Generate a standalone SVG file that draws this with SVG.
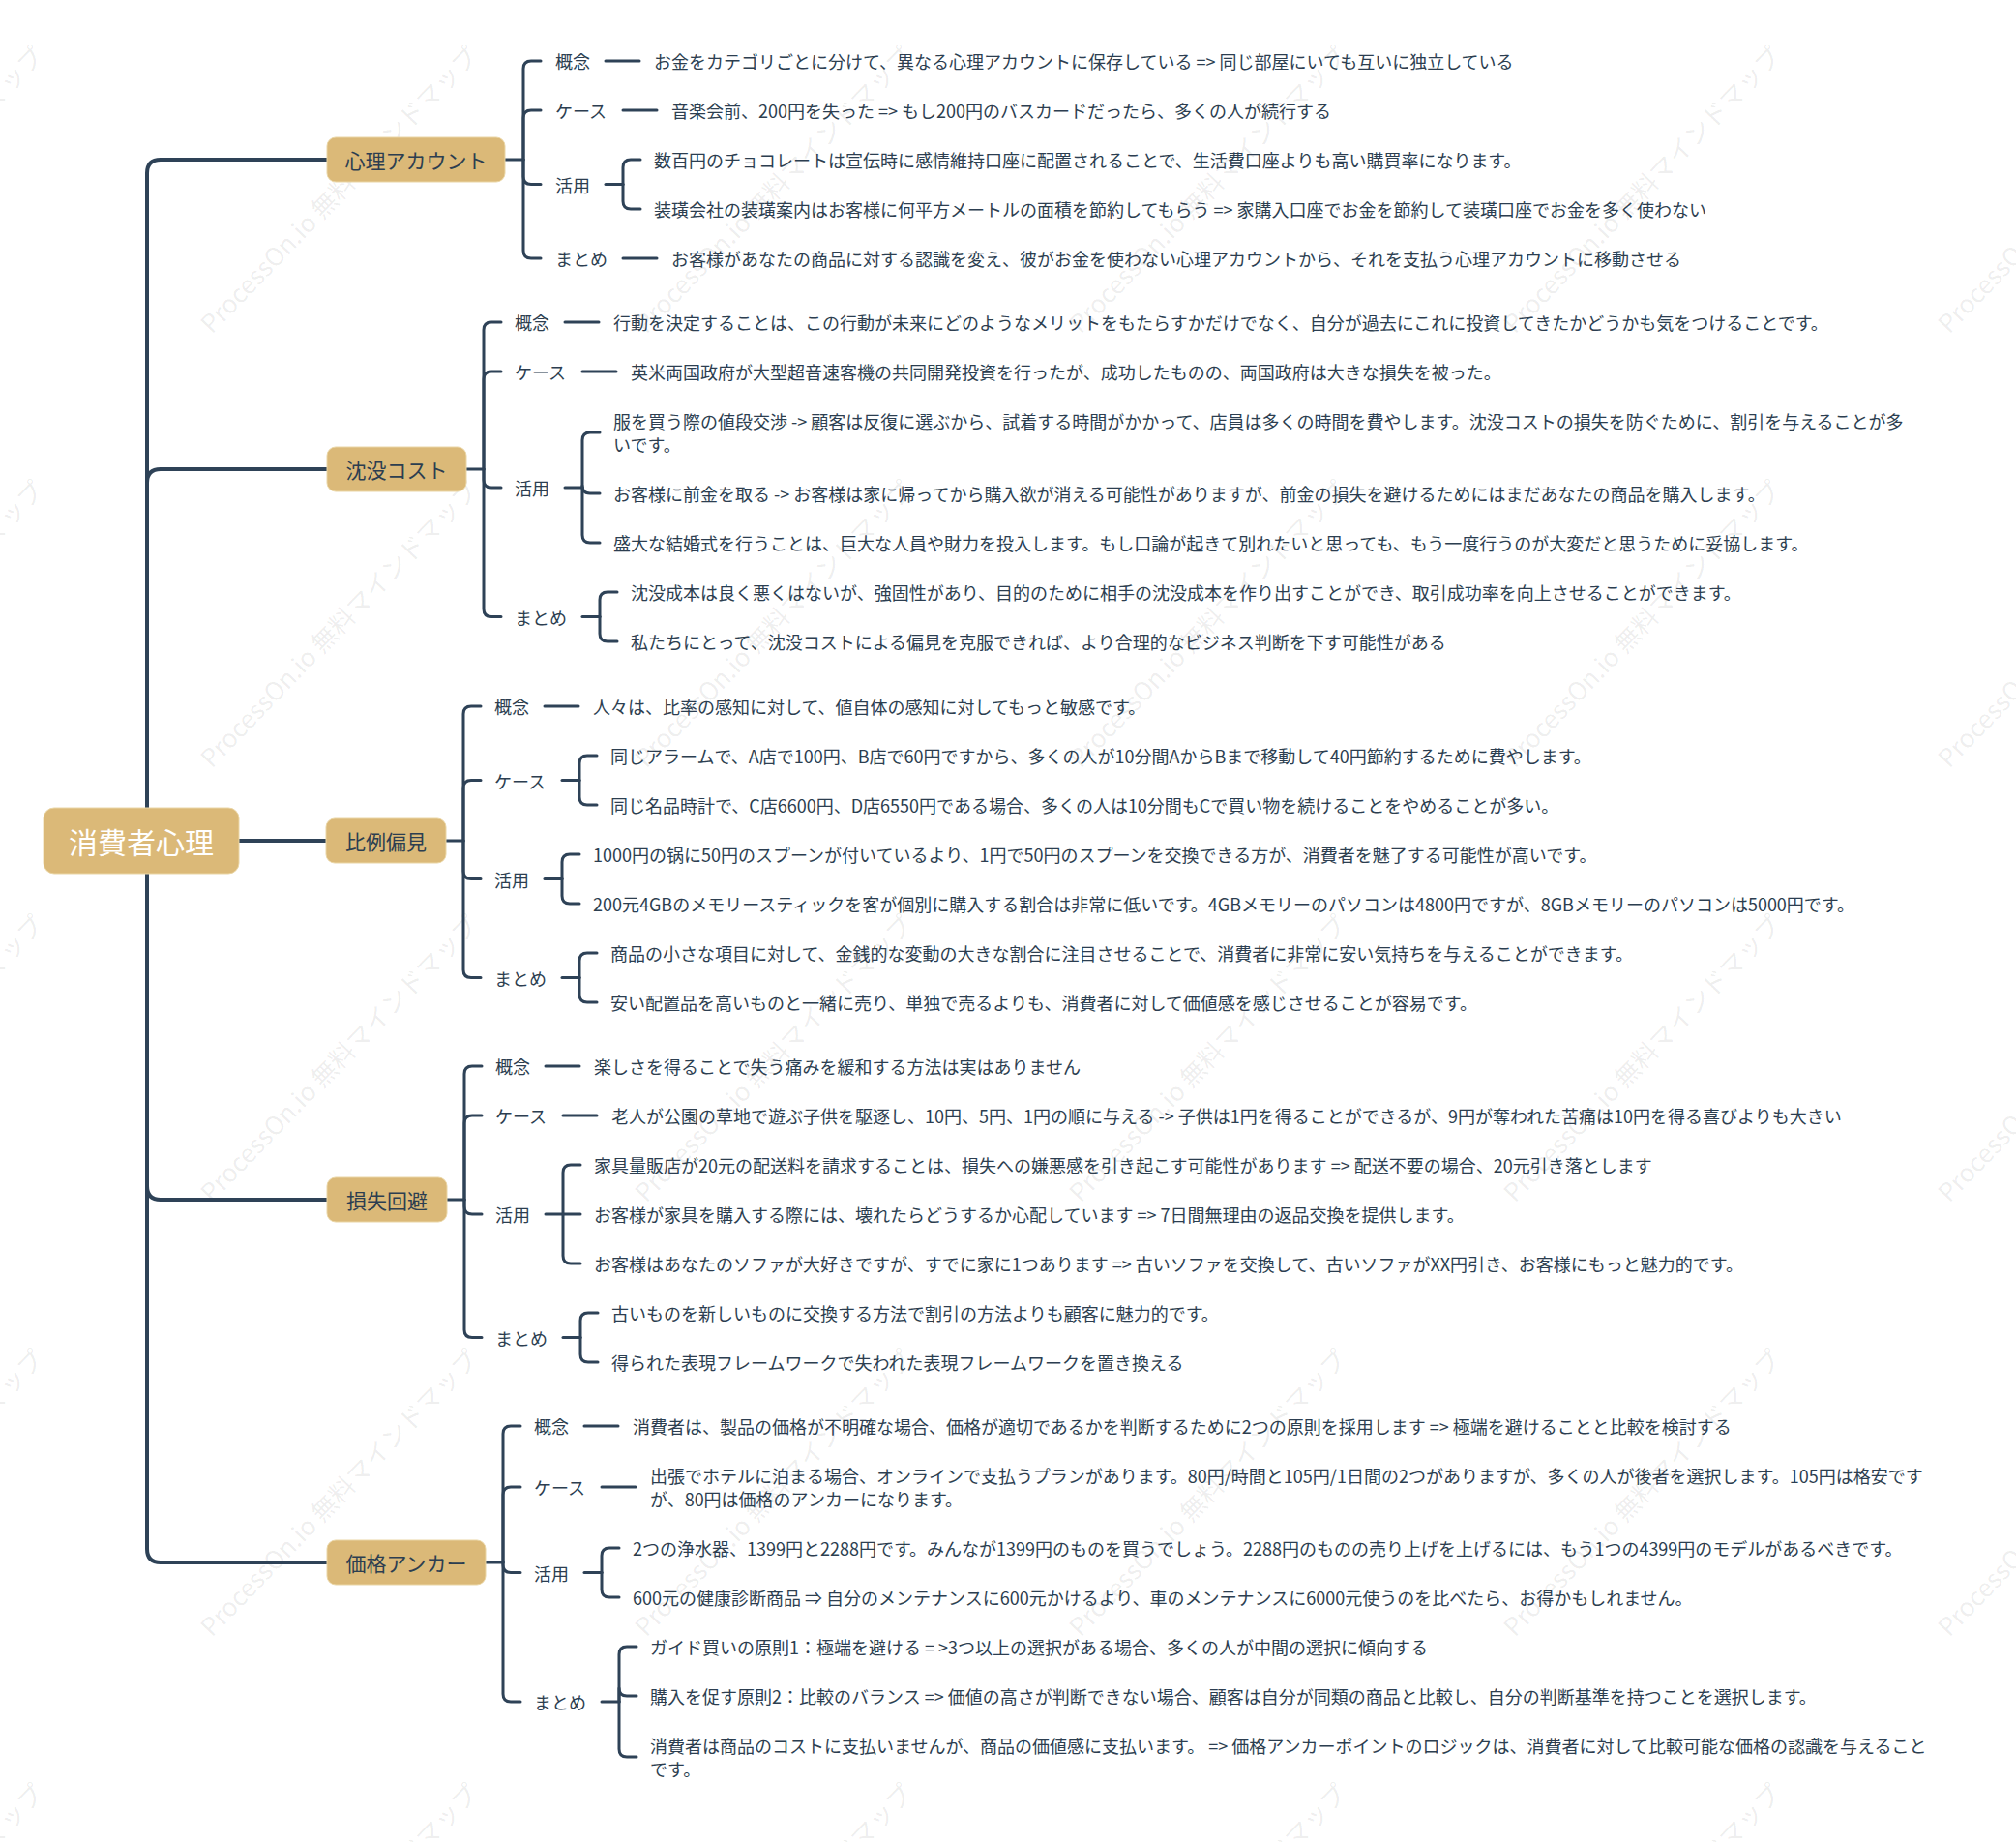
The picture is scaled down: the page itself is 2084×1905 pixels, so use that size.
<svg xmlns="http://www.w3.org/2000/svg" width="2084" height="1905" viewBox="0 0 2084 1905">
<defs>
<style>
.ln{fill:none;stroke:#2e4257;stroke-width:3;stroke-linecap:round;stroke-linejoin:round}
.tr{stroke-width:4}
.box{fill:#dbb978;stroke:#ead6a6;stroke-width:1}
.t{font-family:'Noto Sans CJK JP','Noto Sans',sans-serif;fill:#2c3e50;dominant-baseline:central}
.lf{font-size:18px}
.l1{font-size:21px;text-anchor:middle}
.rt{font-size:30px;fill:#ffffff;text-anchor:middle}
.wm{font-family:'Noto Sans CJK JP','Noto Sans',sans-serif;font-size:26px;fill:#000000;fill-opacity:0.08}
</style>
</defs>
<rect width="2084" height="1905" fill="#ffffff"/>
<g id="watermarks">
<text class="wm" transform="translate(-230,346) rotate(-46)">ProcessOn.io 無料マインドマップ</text>
<text class="wm" transform="translate(219,346) rotate(-46)">ProcessOn.io 無料マインドマップ</text>
<text class="wm" transform="translate(668,346) rotate(-46)">ProcessOn.io 無料マインドマップ</text>
<text class="wm" transform="translate(1117,346) rotate(-46)">ProcessOn.io 無料マインドマップ</text>
<text class="wm" transform="translate(1566,346) rotate(-46)">ProcessOn.io 無料マインドマップ</text>
<text class="wm" transform="translate(2015,346) rotate(-46)">ProcessOn.io 無料マインドマップ</text>
<text class="wm" transform="translate(-230,795) rotate(-46)">ProcessOn.io 無料マインドマップ</text>
<text class="wm" transform="translate(219,795) rotate(-46)">ProcessOn.io 無料マインドマップ</text>
<text class="wm" transform="translate(668,795) rotate(-46)">ProcessOn.io 無料マインドマップ</text>
<text class="wm" transform="translate(1117,795) rotate(-46)">ProcessOn.io 無料マインドマップ</text>
<text class="wm" transform="translate(1566,795) rotate(-46)">ProcessOn.io 無料マインドマップ</text>
<text class="wm" transform="translate(2015,795) rotate(-46)">ProcessOn.io 無料マインドマップ</text>
<text class="wm" transform="translate(-230,1244) rotate(-46)">ProcessOn.io 無料マインドマップ</text>
<text class="wm" transform="translate(219,1244) rotate(-46)">ProcessOn.io 無料マインドマップ</text>
<text class="wm" transform="translate(668,1244) rotate(-46)">ProcessOn.io 無料マインドマップ</text>
<text class="wm" transform="translate(1117,1244) rotate(-46)">ProcessOn.io 無料マインドマップ</text>
<text class="wm" transform="translate(1566,1244) rotate(-46)">ProcessOn.io 無料マインドマップ</text>
<text class="wm" transform="translate(2015,1244) rotate(-46)">ProcessOn.io 無料マインドマップ</text>
<text class="wm" transform="translate(-230,1693) rotate(-46)">ProcessOn.io 無料マインドマップ</text>
<text class="wm" transform="translate(219,1693) rotate(-46)">ProcessOn.io 無料マインドマップ</text>
<text class="wm" transform="translate(668,1693) rotate(-46)">ProcessOn.io 無料マインドマップ</text>
<text class="wm" transform="translate(1117,1693) rotate(-46)">ProcessOn.io 無料マインドマップ</text>
<text class="wm" transform="translate(1566,1693) rotate(-46)">ProcessOn.io 無料マインドマップ</text>
<text class="wm" transform="translate(2015,1693) rotate(-46)">ProcessOn.io 無料マインドマップ</text>
<text class="wm" transform="translate(-230,2142) rotate(-46)">ProcessOn.io 無料マインドマップ</text>
<text class="wm" transform="translate(219,2142) rotate(-46)">ProcessOn.io 無料マインドマップ</text>
<text class="wm" transform="translate(668,2142) rotate(-46)">ProcessOn.io 無料マインドマップ</text>
<text class="wm" transform="translate(1117,2142) rotate(-46)">ProcessOn.io 無料マインドマップ</text>
<text class="wm" transform="translate(1566,2142) rotate(-46)">ProcessOn.io 無料マインドマップ</text>
<text class="wm" transform="translate(2015,2142) rotate(-46)">ProcessOn.io 無料マインドマップ</text>
</g>
<g id="connectors">
<path class="ln tr" d="M152 869 V179 Q152 165 166 165 H338"/>
<path class="ln tr" d="M152 869 V499 Q152 485 166 485 H338"/>
<path class="ln tr" d="M152 869 H337"/>
<path class="ln tr" d="M152 869 V1226 Q152 1240 166 1240 H338"/>
<path class="ln tr" d="M152 869 V1601 Q152 1615 166 1615 H338"/>
<path class="ln" d="M522 165 H541"/>
<path class="ln" d="M541 165 V71 Q541 63 549 63 H559"/>
<path class="ln" d="M541 165 V122 Q541 114 549 114 H559"/>
<path class="ln" d="M541 165 V182.5 Q541 190.5 549 190.5 H559"/>
<path class="ln" d="M541 165 V259 Q541 267 549 267 H559"/>
<path class="ln" d="M626 63 H661"/>
<path class="ln" d="M644 114 H679"/>
<path class="ln" d="M626 190.5 H644"/>
<path class="ln" d="M644 190.5 V173 Q644 165 652 165 H662"/>
<path class="ln" d="M644 190.5 V208 Q644 216 652 216 H662"/>
<path class="ln" d="M644 267 H679"/>
<path class="ln" d="M482 485 H500"/>
<path class="ln" d="M500 485 V341 Q500 333 508 333 H518"/>
<path class="ln" d="M500 485 V392 Q500 384 508 384 H518"/>
<path class="ln" d="M500 485 V496 Q500 504 508 504 H518"/>
<path class="ln" d="M500 485 V629.5 Q500 637.5 508 637.5 H518"/>
<path class="ln" d="M584 333 H619"/>
<path class="ln" d="M602 384 H637"/>
<path class="ln" d="M584 504 H602"/>
<path class="ln" d="M602 504 V455 Q602 447 610 447 H620"/>
<path class="ln" d="M602 504 V502 Q602 510 610 510 H620"/>
<path class="ln" d="M602 504 V553 Q602 561 610 561 H620"/>
<path class="ln" d="M602 637.5 H620"/>
<path class="ln" d="M620 637.5 V620 Q620 612 628 612 H638"/>
<path class="ln" d="M620 637.5 V655 Q620 663 628 663 H638"/>
<path class="ln" d="M461 869 H479"/>
<path class="ln" d="M479 869 V738 Q479 730 487 730 H497"/>
<path class="ln" d="M479 869 V814.5 Q479 806.5 487 806.5 H497"/>
<path class="ln" d="M479 869 V900.5 Q479 908.5 487 908.5 H497"/>
<path class="ln" d="M479 869 V1002.5 Q479 1010.5 487 1010.5 H497"/>
<path class="ln" d="M563 730 H598"/>
<path class="ln" d="M581 806.5 H599"/>
<path class="ln" d="M599 806.5 V789 Q599 781 607 781 H617"/>
<path class="ln" d="M599 806.5 V824 Q599 832 607 832 H617"/>
<path class="ln" d="M563 908.5 H581"/>
<path class="ln" d="M581 908.5 V891 Q581 883 589 883 H599"/>
<path class="ln" d="M581 908.5 V926 Q581 934 589 934 H599"/>
<path class="ln" d="M581 1010.5 H599"/>
<path class="ln" d="M599 1010.5 V993 Q599 985 607 985 H617"/>
<path class="ln" d="M599 1010.5 V1028 Q599 1036 607 1036 H617"/>
<path class="ln" d="M462 1240 H480"/>
<path class="ln" d="M480 1240 V1110 Q480 1102 488 1102 H498"/>
<path class="ln" d="M480 1240 V1161 Q480 1153 488 1153 H498"/>
<path class="ln" d="M480 1240 V1247 Q480 1255 488 1255 H498"/>
<path class="ln" d="M480 1240 V1374.5 Q480 1382.5 488 1382.5 H498"/>
<path class="ln" d="M564 1102 H599"/>
<path class="ln" d="M582 1153 H617"/>
<path class="ln" d="M564 1255 H582"/>
<path class="ln" d="M582 1255 V1212 Q582 1204 590 1204 H600"/>
<path class="ln" d="M582 1255 H600"/>
<path class="ln" d="M582 1255 V1298 Q582 1306 590 1306 H600"/>
<path class="ln" d="M582 1382.5 H600"/>
<path class="ln" d="M600 1382.5 V1365 Q600 1357 608 1357 H618"/>
<path class="ln" d="M600 1382.5 V1400 Q600 1408 608 1408 H618"/>
<path class="ln" d="M502 1615 H520"/>
<path class="ln" d="M520 1615 V1482 Q520 1474 528 1474 H538"/>
<path class="ln" d="M520 1615 V1545 Q520 1537 528 1537 H538"/>
<path class="ln" d="M520 1615 V1617.5 Q520 1625.5 528 1625.5 H538"/>
<path class="ln" d="M520 1615 V1751 Q520 1759 528 1759 H538"/>
<path class="ln" d="M604 1474 H639"/>
<path class="ln" d="M622 1537 H657"/>
<path class="ln" d="M604 1625.5 H622"/>
<path class="ln" d="M622 1625.5 V1608 Q622 1600 630 1600 H640"/>
<path class="ln" d="M622 1625.5 V1643 Q622 1651 630 1651 H640"/>
<path class="ln" d="M622 1759 H640"/>
<path class="ln" d="M640 1759 V1710 Q640 1702 648 1702 H658"/>
<path class="ln" d="M640 1759 V1745 Q640 1753 648 1753 H658"/>
<path class="ln" d="M640 1759 V1808 Q640 1816 648 1816 H658"/>
</g>
<g id="node-root"><rect class="box" x="45" y="835" width="202" height="68" rx="11"/><text class="t rt" x="146" y="869">消費者心理</text></g>
<g id="node-s1"><rect class="box" x="338" y="142" width="184" height="46" rx="9"/><text class="t l1" x="430" y="165">心理アカウント</text></g>
<g id="node-s2"><rect class="box" x="338" y="462" width="144" height="46" rx="9"/><text class="t l1" x="410" y="485">沈没コスト</text></g>
<g id="node-s3"><rect class="box" x="337" y="846" width="124" height="46" rx="9"/><text class="t l1" x="399" y="869">比例偏見</text></g>
<g id="node-s4"><rect class="box" x="338" y="1217" width="124" height="46" rx="9"/><text class="t l1" x="400" y="1240">損失回避</text></g>
<g id="node-s5"><rect class="box" x="338" y="1592" width="164" height="46" rx="9"/><text class="t l1" x="420" y="1615">価格アンカー</text></g>

<g id="s1-labels">
<g id="s1-gainen"><text class="t lf" x="574" y="63">概念</text></g>
<g id="s1-case"><text class="t lf" x="574" y="114">ケース</text></g>
<g id="s1-katsuyo"><text class="t lf" x="574" y="190.5">活用</text></g>
<g id="s1-matome"><text class="t lf" x="574" y="267">まとめ</text></g>
</g>
<g id="s1-leaves">
<g id="s1-l1"><text class="t lf" x="676" y="63">お金をカテゴリごとに分けて、異なる心理アカウントに保存している => 同じ部屋にいても互いに独立している</text></g>
<g id="s1-l2"><text class="t lf" x="694" y="114">音楽会前、200円を失った => もし200円のバスカードだったら、多くの人が続行する</text></g>
<g id="s1-l3"><text class="t lf" x="676" y="165">数百円のチョコレートは宣伝時に感情維持口座に配置されることで、生活費口座よりも高い購買率になります。</text></g>
<g id="s1-l4"><text class="t lf" x="676" y="216">装璜会社の装璜案内はお客様に何平方メートルの面積を節約してもらう => 家購入口座でお金を節約して装璜口座でお金を多く使わない</text></g>
<g id="s1-l5"><text class="t lf" x="694" y="267">お客様があなたの商品に対する認識を変え、彼がお金を使わない心理アカウントから、それを支払う心理アカウントに移動させる</text></g>
</g>

<g id="s2-labels">
<g id="s2-gainen"><text class="t lf" x="532" y="333">概念</text></g>
<g id="s2-case"><text class="t lf" x="532" y="384">ケース</text></g>
<g id="s2-katsuyo"><text class="t lf" x="532" y="504">活用</text></g>
<g id="s2-matome"><text class="t lf" x="532" y="637.5">まとめ</text></g>
</g>
<g id="s2-leaves">
<g id="s2-l1"><text class="t lf" x="634" y="333">行動を決定することは、この行動が未来にどのようなメリットをもたらすかだけでなく、自分が過去にこれに投資してきたかどうかも気をつけることです。</text></g>
<g id="s2-l2"><text class="t lf" x="652" y="384">英米両国政府が大型超音速客機の共同開発投資を行ったが、成功したものの、両国政府は大きな損失を被った。</text></g>
<g id="s2-l3"><text class="t lf" x="634" y="435">服を買う際の値段交渉 -&gt; 顧客は反復に選ぶから、試着する時間がかかって、店員は多くの時間を費やします。沈没コストの損失を防ぐために、割引を与えることが多<tspan x="634" y="459">いです。</tspan></text></g>
<g id="s2-l4"><text class="t lf" x="634" y="510">お客様に前金を取る -&gt; お客様は家に帰ってから購入欲が消える可能性がありますが、前金の損失を避けるためにはまだあなたの商品を購入します。</text></g>
<g id="s2-l5"><text class="t lf" x="634" y="561">盛大な結婚式を行うことは、巨大な人員や財力を投入します。もし口論が起きて別れたいと思っても、もう一度行うのが大変だと思うために妥協します。</text></g>
<g id="s2-l6"><text class="t lf" x="652" y="612">沈没成本は良く悪くはないが、強固性があり、目的のために相手の沈没成本を作り出すことができ、取引成功率を向上させることができます。</text></g>
<g id="s2-l7"><text class="t lf" x="652" y="663">私たちにとって、沈没コストによる偏見を克服できれば、より合理的なビジネス判断を下す可能性がある</text></g>
</g>

<g id="s3-labels">
<g id="s3-gainen"><text class="t lf" x="511" y="730">概念</text></g>
<g id="s3-case"><text class="t lf" x="511" y="806.5">ケース</text></g>
<g id="s3-katsuyo"><text class="t lf" x="511" y="908.5">活用</text></g>
<g id="s3-matome"><text class="t lf" x="511" y="1010.5">まとめ</text></g>
</g>
<g id="s3-leaves">
<g id="s3-l1"><text class="t lf" x="613" y="730">人々は、比率の感知に対して、値自体の感知に対してもっと敏感です。</text></g>
<g id="s3-l2"><text class="t lf" x="631" y="781">同じアラームで、A店で100円、B店で60円ですから、多くの人が10分間AからBまで移動して40円節約するために費やします。</text></g>
<g id="s3-l3"><text class="t lf" x="631" y="832">同じ名品時計で、C店6600円、D店6550円である場合、多くの人は10分間もCで買い物を続けることをやめることが多い。</text></g>
<g id="s3-l4"><text class="t lf" x="613" y="883">1000円の锅に50円のスプーンが付いているより、1円で50円のスプーンを交換できる方が、消費者を魅了する可能性が高いです。</text></g>
<g id="s3-l5"><text class="t lf" x="613" y="934">200元4GBのメモリースティックを客が個別に購入する割合は非常に低いです。4GBメモリーのパソコンは4800円ですが、8GBメモリーのパソコンは5000円です。</text></g>
<g id="s3-l6"><text class="t lf" x="631" y="985">商品の小さな項目に対して、金銭的な変動の大きな割合に注目させることで、消費者に非常に安い気持ちを与えることができます。</text></g>
<g id="s3-l7"><text class="t lf" x="631" y="1036">安い配置品を高いものと一緒に売り、単独で売るよりも、消費者に対して価値感を感じさせることが容易です。</text></g>
</g>

<g id="s4-labels">
<g id="s4-gainen"><text class="t lf" x="512" y="1102">概念</text></g>
<g id="s4-case"><text class="t lf" x="512" y="1153">ケース</text></g>
<g id="s4-katsuyo"><text class="t lf" x="512" y="1255">活用</text></g>
<g id="s4-matome"><text class="t lf" x="512" y="1382.5">まとめ</text></g>
</g>
<g id="s4-leaves">
<g id="s4-l1"><text class="t lf" x="614" y="1102">楽しさを得ることで失う痛みを緩和する方法は実はありません</text></g>
<g id="s4-l2"><text class="t lf" x="632" y="1153">老人が公園の草地で遊ぶ子供を駆逐し、10円、5円、1円の順に与える -&gt; 子供は1円を得ることができるが、9円が奪われた苦痛は10円を得る喜びよりも大きい</text></g>
<g id="s4-l3"><text class="t lf" x="614" y="1204">家具量販店が20元の配送料を請求することは、損失への嫌悪感を引き起こす可能性があります =&gt; 配送不要の場合、20元引き落とします</text></g>
<g id="s4-l4"><text class="t lf" x="614" y="1255">お客様が家具を購入する際には、壊れたらどうするか心配しています =&gt; 7日間無理由の返品交換を提供します。</text></g>
<g id="s4-l5"><text class="t lf" x="614" y="1306">お客様はあなたのソファが大好きですが、すでに家に1つあります =&gt; 古いソファを交換して、古いソファがXX円引き、お客様にもっと魅力的です。</text></g>
<g id="s4-l6"><text class="t lf" x="632" y="1357">古いものを新しいものに交換する方法で割引の方法よりも顧客に魅力的です。</text></g>
<g id="s4-l7"><text class="t lf" x="632" y="1408">得られた表現フレームワークで失われた表現フレームワークを置き換える</text></g>
</g>

<g id="s5-labels">
<g id="s5-gainen"><text class="t lf" x="552" y="1474">概念</text></g>
<g id="s5-case"><text class="t lf" x="552" y="1537">ケース</text></g>
<g id="s5-katsuyo"><text class="t lf" x="552" y="1625.5">活用</text></g>
<g id="s5-matome"><text class="t lf" x="552" y="1759">まとめ</text></g>
</g>
<g id="s5-leaves">
<g id="s5-l1"><text class="t lf" x="654" y="1474">消費者は、製品の価格が不明確な場合、価格が適切であるかを判断するために2つの原則を採用します =&gt; 極端を避けることと比較を検討する</text></g>
<g id="s5-l2"><text class="t lf" x="672" y="1525">出張でホテルに泊まる場合、オンラインで支払うプランがあります。80円/時間と105円/1日間の2つがありますが、多くの人が後者を選択します。105円は格安です<tspan x="672" y="1549">が、80円は価格のアンカーになります。</tspan></text></g>
<g id="s5-l3"><text class="t lf" x="654" y="1600">2つの浄水器、1399円と2288円です。みんなが1399円のものを買うでしょう。2288円のものの売り上げを上げるには、もう1つの4399円のモデルがあるべきです。</text></g>
<g id="s5-l4"><text class="t lf" x="654" y="1651">600元の健康診断商品 ⇒ 自分のメンテナンスに600元かけるより、車のメンテナンスに6000元使うのを比べたら、お得かもしれません。</text></g>
<g id="s5-l5"><text class="t lf" x="672" y="1702">ガイド買いの原則1：極端を避ける = &gt;3つ以上の選択がある場合、多くの人が中間の選択に傾向する</text></g>
<g id="s5-l6"><text class="t lf" x="672" y="1753">購入を促す原則2：比較のバランス =&gt; 価値の高さが判断できない場合、顧客は自分が同類の商品と比較し、自分の判断基準を持つことを選択します。</text></g>
<g id="s5-l7"><text class="t lf" x="672" y="1804">消費者は商品のコストに支払いませんが、商品の価値感に支払います。 =&gt; 価格アンカーポイントのロジックは、消費者に対して比較可能な価格の認識を与えること<tspan x="672" y="1828">です。</tspan></text></g>
</g>
</svg>
